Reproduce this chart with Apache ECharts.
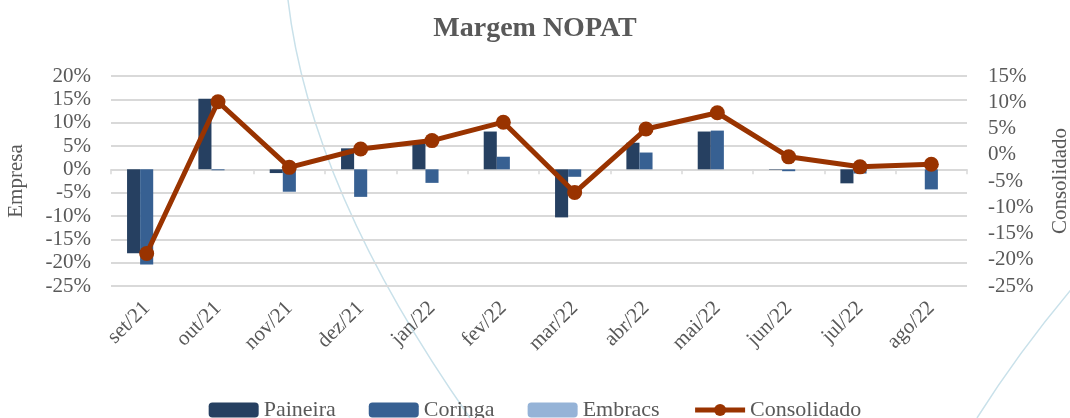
<!DOCTYPE html>
<html>
<head>
<meta charset="utf-8">
<script src="https://cdn.jsdelivr.net/npm/echarts@6/dist/echarts.min.js"></script>
<style>
  html, body { margin: 0; padding: 0; background: #fff; }
  #chart { width: 1070px; height: 418px; }
</style>
</head>
<body>
<div id="chart"></div>
<script>
const months = ['set/21', 'out/21', 'nov/21', 'dez/21', 'jan/22', 'fev/22', 'mar/22', 'abr/22', 'mai/22', 'jun/22', 'jul/22', 'ago/22']
// valores em %
const paineira = [-18.0, 15.1, -0.8, 4.5, 5.7, 8.1, -10.3, 5.7, 8.1, -0.1, -3.0, 0]
const coringa = [-20.4, -0.2, -4.8, -5.9, -2.9, 2.7, -1.6, 3.6, 8.3, -0.4, -0.9, -4.3]
const embracs = [0, 0, 0, 0, 0, 0, 0, 0, 0, 0, 0, 0]
const consolidado = [-18.8, 10.1, -2.4, 1.1, 2.7, 6.2, -7.2, 4.9, 8.0, -0.4, -2.3, -1.8]

const font = '"Liberation Serif", "DejaVu Serif", serif'
const grey = '#595959'

const myChart = echarts.init(document.getElementById('chart'))
myChart.setOption({
  animation: false,
  title: {
    text: 'Margem NOPAT',
    left: 'center',
    top: 10,
    textStyle: {color: grey, fontFamily: font, fontSize: 28, fontWeight: 'bold'}
  },
  legend: {
    left: 'center',
    top: 394,
    itemWidth: 50,
    itemHeight: 15,
    itemGap: 33,
    itemStyle: {borderWidth: 0},
    textStyle: {color: grey, fontFamily: font, fontSize: 22, padding: [0, 0, 0, 0]},
    data: [
      'Paineira', 'Coringa', 'Embracs',
      {name: 'Consolidado', lineStyle: {width: 5}}
    ]
  },
  grid: {left: 111, right: 103, top: 76, bottom: 132, outerBoundsMode: 'none'},
  xAxis: [
    {
      type: 'category',
      data: months,
      axisLine: {onZero: true, lineStyle: {color: '#d9d9d9', width: 1.5}},
      axisTick: {show: true, length: 5, lineStyle: {color: '#d9d9d9', width: 1.5}},
      axisLabel: {show: false}
    },
    {
      type: 'category',
      data: months,
      position: 'bottom',
      axisLine: {show: false},
      axisTick: {show: false},
      axisLabel: {
        rotate: 45,
        margin: 19,
        color: grey,
        fontFamily: font,
        fontSize: 21
      }
    }
  ],
  yAxis: [
    {
      type: 'value',
      min: -25,
      max: 20,
      interval: 5,
      name: 'Empresa',
      nameLocation: 'middle',
      nameRotate: 90,
      nameGap: 84,
      nameTextStyle: {color: grey, fontFamily: font, fontSize: 21},
      axisLabel: {formatter: '{value}%', color: grey, fontFamily: font, fontSize: 21, margin: 20},
      splitLine: {lineStyle: {color: '#d9d9d9', width: 2}}
    },
    {
      type: 'value',
      min: -25,
      max: 15,
      interval: 5,
      position: 'right',
      name: 'Consolidado',
      nameLocation: 'middle',
      nameRotate: 90,
      nameGap: 83,
      nameTextStyle: {color: grey, fontFamily: font, fontSize: 21},
      axisLabel: {formatter: '{value}%', color: grey, fontFamily: font, fontSize: 21, margin: 21},
      splitLine: {show: false}
    }
  ],
  graphic: [
    {
      type: 'bezierCurve',
      silent: true,
      z: -10,
      shape: {x1: 288, y1: 0, x2: 470, y2: 418, cpx1: 310, cpy1: 190},
      style: {stroke: '#c9e1ea', lineWidth: 1.5, fill: null}
    },
    {
      type: 'bezierCurve',
      silent: true,
      z: -10,
      shape: {x1: 977, y1: 418, x2: 1075, y2: 285, cpx1: 1020, cpy1: 350},
      style: {stroke: '#c9e1ea', lineWidth: 1.5, fill: null}
    }
  ],
  series: [
    {
      name: 'Paineira',
      type: 'bar',
      data: paineira,
      barGap: '0%',
      barCategoryGap: '45%',
      itemStyle: {color: '#264061'}
    },
    {
      name: 'Coringa',
      type: 'bar',
      data: coringa,
      itemStyle: {color: '#376092'}
    },
    {
      name: 'Embracs',
      type: 'bar',
      data: embracs,
      itemStyle: {color: '#95b3d7'}
    },
    {
      name: 'Consolidado',
      type: 'line',
      yAxisIndex: 1,
      data: consolidado,
      symbol: 'circle',
      symbolSize: 15,
      lineStyle: {color: '#993300', width: 5},
      itemStyle: {color: '#993300'},
      z: 5
    }
  ]
})
</script>
</body>
</html>
